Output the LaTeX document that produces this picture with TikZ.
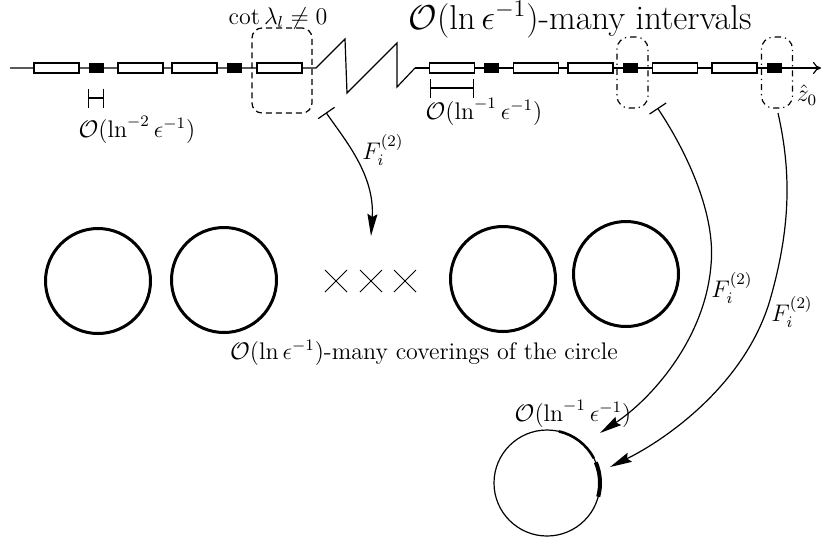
\documentclass[tikz,border=0pt,12pt]{standalone}
\usepackage{amsmath, amssymb}
\usetikzlibrary{arrows.meta, shapes.misc, calc}

\begin{document}
\begin{tikzpicture}[
        x=0.5pt, y=0.5pt, line width=0.6pt,
        >={Stealth[length=11pt,width=5pt,inset=1.5pt]},
        ivl/.style={draw, fill=white, inner sep=0pt, minimum width=22.5pt, minimum height=5pt},
        blk/.style={fill=black, inner sep=0pt, minimum width=7.5pt, minimum height=5pt},
        cover/.style={circle, draw, line width=1.5pt, minimum size=52.5pt, inner sep=0pt},
        times/.style={cross out, draw, line width=0.5pt, inner sep=0pt, minimum size=10.5pt},
        zone/.style={draw, inner sep=0pt, rounded corners=6pt},
        dimbar/.style={{Bar[width=9.5pt]}-{Bar[width=9.5pt]}},
        ]
        \useasboundingbox (0,0) rectangle (823,-547);

        % the real line, with a break
        \coordinate (axL) at (10,-68);
        \coordinate (z1) at (316,-68);
        \coordinate (z2) at (345,-39);
        \coordinate (z3) at (347,-93);
        \coordinate (z4) at (397,-43);
        \coordinate (z5) at (397,-87);
        \coordinate (z6) at (415,-68);
        \coordinate (axR) at (821,-68);
        \draw (axL) -- (z1) -- (z2) -- (z3) -- (z4) -- (z5) -- (z6);
        \draw[-{To[length=4pt,width=6pt]}] (z6) -- (axR);

        % intervals and points
        \node[ivl] (i1) at (56.5,-68) {};
        \node[blk] (k1) at (96,-68) {};
        \node[ivl] (i2) at (140.5,-68) {};
        \node[ivl] (i3) at (194.5,-68) {};
        \node[blk] (k2) at (234.5,-68) {};
        \node[ivl] (i4) at (279.5,-68) {};
        \node[ivl] (i5) at (452,-68) {};
        \node[blk] (k3) at (491.5,-68) {};
        \node[ivl] (i6) at (536,-68) {};
        \node[ivl] (i7) at (590.5,-68) {};
        \node[blk] (k4) at (630.5,-68) {};
        \node[ivl] (i8) at (675,-68) {};
        \node[ivl] (i9) at (734.5,-68) {};
        \node[blk] (k5) at (774,-68) {};

        \node[zone, dash pattern=on 3pt off 2pt, rounded corners=5pt,
              minimum width=30pt, minimum height=42.5pt] (cotbox) at (282,-70.5) {};
        \node[zone, dash dot, minimum width=15.5pt, minimum height=35.5pt] (pt1) at (632.5,-72.5) {};
        \node[zone, dash dot, minimum width=15.5pt, minimum height=35.5pt] (pt2) at (777,-72.5) {};

        % sizes
        \coordinate (d1a) at (88,-98);
        \coordinate (d1b) at (104,-98);
        \draw[dimbar] (d1a) -- (d1b);
        \coordinate (d2a) at (430,-88);
        \coordinate (d2b) at (474,-88);
        \draw[dimbar] (d2a) -- (d2b);

        \node[anchor=base] (cotl) at (278,-24) {$\cot\lambda_l\neq 0$};
        \node[anchor=base, font=\Large, inner sep=0pt] (manyl) at (580,-29) {$\mathcal{O}(\ln\epsilon^{-1})$-many intervals};
        \node[anchor=base] (len2) at (137,-137) {$\mathcal{O}(\ln^{-2}\epsilon^{-1})$};
        \node[anchor=base] (len1) at (484,-119) {$\mathcal{O}(\ln^{-1}\epsilon^{-1})$};
        \node (z0l) at (807,-95) {$\hat{z}_0$};

        % coverings of the circle
        \node[cover] (c1) at (98,-281) {};
        \node[cover] (c2) at (224,-280) {};
        \node[times] (x1) at (336,-281) {};
        \node[times] (x2) at (371,-281) {};
        \node[times] (x3) at (405,-281) {};
        \node[cover] (c3) at (503,-279) {};
        \node[cover] (c4) at (626,-274) {};
        \node[anchor=base] (covl) at (424,-359) {$\mathcal{O}(\ln\epsilon^{-1})$-many coverings of the circle};

        % the circle with its two arcs
        \node[circle, draw, minimum size=53pt, inner sep=0pt] (bc) at (547,-483) {};
        \draw[line width=1.3pt] ($(bc.center)+(77:26.5pt)$) arc[start angle=77, end angle=28, radius=26.5pt];
        \draw[line width=2pt] ($(bc.center)+(23:26.5pt)$) arc[start angle=23, end angle=-15, radius=26.5pt];
        \node[anchor=base] (bcl) at (573,-421) {$\mathcal{O}(\ln^{-1}\epsilon^{-1})$};

        % the maps
        \coordinate (s1) at (326,-112.5);
        \coordinate (e1) at (371,-236);
        \draw[{Bar[width=10pt]}->] (s1) .. controls (345,-140) and (375,-175) .. (e1);
        \node (f1) at (383,-150) {$F_i^{(2)}$};

        \coordinate (s2) at (657.5,-108);
        \coordinate (m2) at (711,-265);
        \coordinate (e2) at (600,-433);
        \draw[{Bar[width=10pt]}->] (s2) .. controls (687.5,-153) and (716,-215) .. (m2)
              .. controls (705,-340) and (650,-400) .. (e2);
        \node (f2) at (732,-288) {$F_i^{(2)}$};

        \coordinate (s3) at (778,-113);
        \coordinate (m3) at (770,-300);
        \coordinate (e3) at (610,-467);
        \draw[->] (s3) .. controls (792,-175) and (790,-230) .. (m3)
              .. controls (745,-385) and (665,-440) .. (e3);
        \node (f3) at (792,-312) {$F_i^{(2)}$};
      \end{tikzpicture}
\end{document}
